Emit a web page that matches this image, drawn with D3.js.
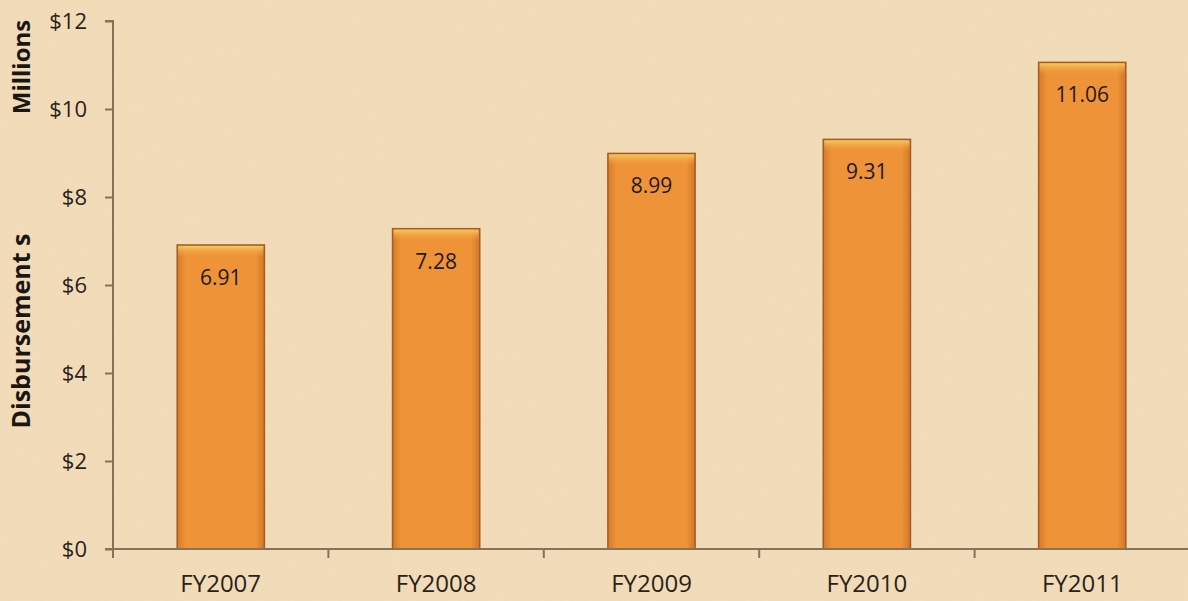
<!DOCTYPE html>
<html>
<head>
<meta charset="utf-8">
<script src="https://cdn.jsdelivr.net/npm/d3@7"></script>
<style>
  html, body { margin: 0; padding: 0; background: #f1dab6; }
  svg { display: block; }
  .tick text { font-family: "Open Sans", Lato, sans-serif; fill: #2a2218; }
</style>
</head>
<body>
<svg id="chart" width="1188" height="601"></svg>
<script>
var years = ['FY2007', 'FY2008', 'FY2009', 'FY2010', 'FY2011'];
var disbursements = [6.91, 7.28, 8.99, 9.31, 11.06];
var yTicks = [0, 2, 4, 6, 8, 10, 12];

var width = 1188, height = 601;
var margin = { top: 21, left: 113, bottom: 52 };

var svg = d3.select('#chart');
var defs = svg.append('defs');

// paper texture
var paper = defs.append('filter').attr('id', 'paper')
    .attr('x', 0).attr('y', 0).attr('width', '100%').attr('height', '100%');
paper.append('feTurbulence')
    .attr('type', 'fractalNoise')
    .attr('baseFrequency', 0.55)
    .attr('numOctaves', 3)
    .attr('seed', 4)
    .attr('result', 'noise');
paper.append('feColorMatrix')
    .attr('in', 'noise')
    .attr('type', 'matrix')
    .attr('values', '0 0 0 0 0.65  0 0 0 0 0.5  0 0 0 0 0.33  0 0 0 0.14 0');

svg.append('rect').attr('width', width).attr('height', height).attr('fill', '#f4ddba');
svg.append('rect').attr('width', width).attr('height', height).attr('filter', 'url(#paper)');

var barGrad = defs.append('linearGradient').attr('id', 'barGrad')
    .attr('x1', 0).attr('x2', 1).attr('y1', 0).attr('y2', 0);
barGrad.append('stop').attr('offset', '0%').attr('stop-color', '#d47a2a');
barGrad.append('stop').attr('offset', '10%').attr('stop-color', '#ef9338');
barGrad.append('stop').attr('offset', '90%').attr('stop-color', '#ef9338');
barGrad.append('stop').attr('offset', '100%').attr('stop-color', '#cf7629');

var topGrad = defs.append('linearGradient').attr('id', 'topGrad')
    .attr('x1', 0).attr('x2', 0).attr('y1', 0).attr('y2', 1);
topGrad.append('stop').attr('offset', '0%').attr('stop-color', '#f6c95e');
topGrad.append('stop').attr('offset', '100%').attr('stop-color', '#ef9338').attr('stop-opacity', 0);

var x = d3.scaleBand()
    .domain(years)
    .range([margin.left, 1190])
    .paddingInner(0.595)
    .paddingOuter(0.298);

var xAxisScale = d3.scaleBand().domain(years).range([margin.left, 1190]);

var y = d3.scaleLinear()
    .domain([0, 12])
    .range([height - margin.bottom, margin.top]);

// bars
var bars = svg.append('g').selectAll('g')
    .data(disbursements)
    .enter().append('g');

bars.append('rect')
    .attr('x', function(d, i) { return x(years[i]); })
    .attr('y', function(d) { return y(d); })
    .attr('width', x.bandwidth())
    .attr('height', function(d) { return y(0) - y(d); })
    .attr('fill', 'url(#barGrad)')
    .attr('stroke', '#a35c26')
    .attr('stroke-width', 1.5);

bars.append('rect')
    .attr('x', function(d, i) { return x(years[i]) + 1; })
    .attr('y', function(d) { return y(d) + 1; })
    .attr('width', x.bandwidth() - 2)
    .attr('height', 12)
    .attr('fill', 'url(#topGrad)');

bars.append('text')
    .attr('x', function(d, i) { return x(years[i]) + x.bandwidth() / 2; })
    .attr('y', function(d) { return y(d) + 40; })
    .attr('text-anchor', 'middle')
    .attr('font-family', '"Open Sans", Lato, sans-serif')
    .attr('font-size', 21)
    .attr('fill', '#1e1a14')
    .text(function(d) { return d.toFixed(2); });

// axes
var yAxis = svg.append('g')
    .attr('transform', 'translate(' + margin.left + ',0)')
    .call(d3.axisLeft(y).tickValues(yTicks).tickSize(8).tickPadding(18)
        .tickFormat(function(d) { return '$' + d; }));

var xAxis = svg.append('g')
    .attr('transform', 'translate(0,' + y(0) + ')')
    .call(d3.axisBottom(xAxisScale).tickSize(0).tickPadding(26));

xAxis.selectAll('.tick').append('line')
    .attr('x1', -xAxisScale.bandwidth() / 2).attr('x2', -xAxisScale.bandwidth() / 2)
    .attr('y1', 0).attr('y2', 9);

[yAxis, xAxis].forEach(function(a) {
    a.select('.domain').attr('stroke', '#857258').attr('stroke-width', 2);
    a.selectAll('.tick line').attr('stroke', '#857258').attr('stroke-width', 2);
});
yAxis.selectAll('.tick text').attr('font-size', 22);
xAxis.selectAll('.tick text').attr('font-size', 24);
yAxis.select('.domain').attr('d', 'M-8,' + margin.top + 'H0V' + y(0));
xAxis.select('.domain').attr('d', 'M' + (margin.left - 8) + ',0H1190');

// axis titles
svg.append('text')
    .attr('transform', 'translate(30,67) rotate(-90)')
    .attr('text-anchor', 'middle')
    .attr('font-family', '"Open Sans", Lato, sans-serif')
    .attr('font-weight', 'bold')
    .attr('font-size', 24)
    .attr('fill', '#1a1612')
    .text('Millions');

svg.append('text')
    .attr('transform', 'translate(30,331) rotate(-90)')
    .attr('text-anchor', 'middle')
    .attr('font-family', '"Open Sans", Lato, sans-serif')
    .attr('font-weight', 'bold')
    .attr('font-size', 25)
    .attr('fill', '#1a1612')
    .text('Disbursement s');
</script>
</body>
</html>
